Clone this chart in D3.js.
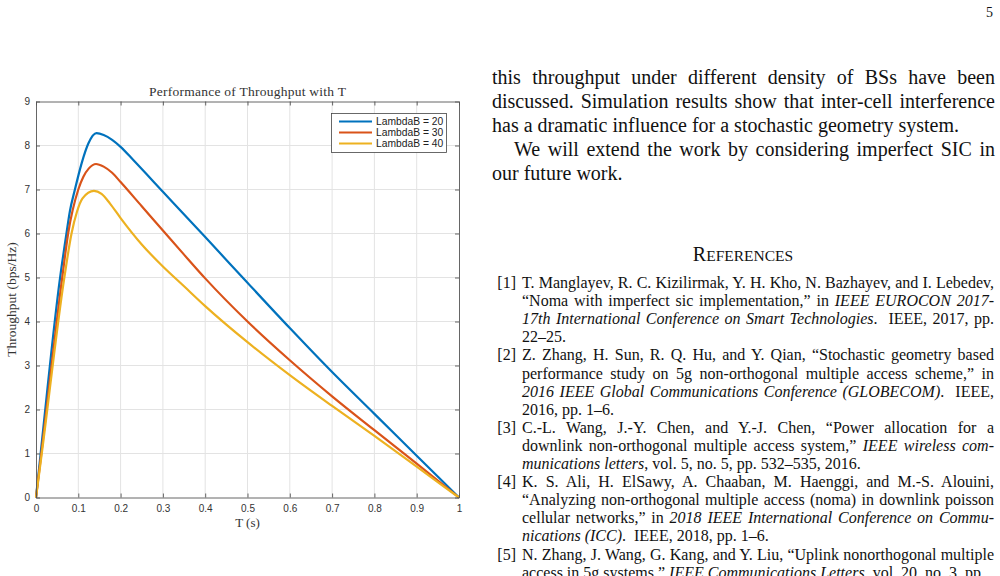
<!DOCTYPE html>
<html>
<head>
<meta charset="utf-8">
<script src="https://cdn.jsdelivr.net/npm/d3@7"></script>
<style>
    body { margin: 0; background: #fff; }
    svg { display: block; }
</style>
</head>
<body>
<div id="page"></div>
<script>

// ---- chart data ----
const xTickValues = [0, 0.1, 0.2, 0.3, 0.4, 0.5, 0.6, 0.7, 0.8, 0.9, 1];
const yTickValues = [0, 1, 2, 3, 4, 5, 6, 7, 8, 9];
const seriesLabels = ["LambdaB = 20", "LambdaB = 30", "LambdaB = 40"];

// [T, throughput]
const lambdaB20 = [[0, 0], [0.011, 1], [0.057, 5], [0.072, 6], [0.08, 6.5], [0.092, 7], [0.108, 7.6], [0.124, 8.05],
    [0.143, 8.28], [0.16, 8.24], [0.18, 8.13], [0.2, 7.97], [0.23, 7.67], [0.3, 6.95], [0.4, 5.92],
    [0.5, 4.88], [0.6, 3.85], [0.7, 2.85], [0.8, 1.9], [0.9, 0.95], [1, 0]];
const lambdaB30 = [[0, 0], [0.012, 0.95], [0.062, 5], [0.076, 6], [0.1, 7], [0.112, 7.29], [0.125, 7.48], [0.142, 7.58],
    [0.16, 7.52], [0.18, 7.38], [0.2, 7.17], [0.25, 6.62], [0.3, 6.07], [0.35, 5.52], [0.4, 4.98], [0.5, 4.0],
    [0.6, 3.12], [0.7, 2.3], [0.8, 1.53], [0.9, 0.77], [1, 0]];
const lambdaB40 = [[0, 0], [0.013, 0.95], [0.067, 5], [0.084, 6], [0.097, 6.5], [0.11, 6.8], [0.137, 6.97],
    [0.155, 6.9], [0.175, 6.68], [0.2, 6.35], [0.25, 5.75], [0.3, 5.25], [0.35, 4.8], [0.4, 4.35], [0.5, 3.53],
    [0.6, 2.78], [0.7, 2.08], [0.8, 1.4], [0.9, 0.7], [1, 0]];
const seriesData = [lambdaB20, lambdaB30, lambdaB40];

// ---- text column (underscores mark italic runs) ----
const bodyLines = [
    {text: "this throughput under different density of BSs have been", justify: true},
    {text: "discussed. Simulation results show that inter-cell interference", justify: true},
    {text: "has a dramatic influence for a stochastic geometry system.", justify: false},
    {text: "We will extend the work by considering imperfect SIC in", justify: true, indent: true},
    {text: "our future work.", justify: false}
];
const referenceLabels = ["[1]", "[2]", "[3]", "[4]", "[5]"];
const referenceLines = [
    ["T. Manglayev, R. C. Kizilirmak, Y. H. Kho, N. Bazhayev, and I. Lebedev,",
     "“Noma with imperfect sic implementation,” in _IEEE EUROCON 2017-_",
     "_17th International Conference on Smart Technologies_.  IEEE, 2017, pp.",
     "22–25."],
    ["Z. Zhang, H. Sun, R. Q. Hu, and Y. Qian, “Stochastic geometry based",
     "performance study on 5g non-orthogonal multiple access scheme,” in",
     "_2016 IEEE Global Communications Conference (GLOBECOM)_.  IEEE,",
     "2016, pp. 1–6."],
    ["C.-L. Wang, J.-Y. Chen, and Y.-J. Chen, “Power allocation for a",
     "downlink non-orthogonal multiple access system,” _IEEE wireless com-_",
     "_munications letters_, vol. 5, no. 5, pp. 532–535, 2016."],
    ["K. S. Ali, H. ElSawy, A. Chaaban, M. Haenggi, and M.-S. Alouini,",
     "“Analyzing non-orthogonal multiple access (noma) in downlink poisson",
     "cellular networks,” in _2018 IEEE International Conference on Commu-_",
     "_nications (ICC)_.  IEEE, 2018, pp. 1–6."],
    ["N. Zhang, J. Wang, G. Kang, and Y. Liu, “Uplink nonorthogonal multiple",
     "access in 5g systems,” _IEEE Communications Letters_, vol. 20, no. 3, pp."]
];

const seriesColors = ["#0072bd", "#d95319", "#edb120"];

// ---- page ----
const svg = d3.select("#page").append("svg")
    .attr("width", 1000)
    .attr("height", 576);

svg.append("rect").attr("width", 1000).attr("height", 576).attr("fill", "#fff");

// ---- plot ----
const plot = {left: 36, right: 459, top: 101.5, bottom: 497.5};

const x = d3.scaleLinear().domain([0, 1]).range([plot.left, plot.right]);
const y = d3.scaleLinear().domain([0, 9]).range([plot.bottom, plot.top]);

// grid
const grid = svg.append("g").attr("class", "grid")
    .attr("stroke", "#e3e3e3")
    .attr("stroke-width", 1);

grid.selectAll(".gx").data(xTickValues.slice(1, -1)).enter().append("line")
    .attr("x1", d => x(d)).attr("x2", d => x(d))
    .attr("y1", plot.top).attr("y2", plot.bottom);

grid.selectAll(".gy").data(yTickValues.slice(1, -1)).enter().append("line")
    .attr("x1", plot.left).attr("x2", plot.right)
    .attr("y1", d => y(d)).attr("y2", d => y(d));

// series
const line = d3.line()
    .x(d => x(d[0]))
    .y(d => y(d[1]))
    .curve(d3.curveMonotoneX);

svg.append("g").selectAll("path").data(seriesData).enter().append("path")
    .attr("d", line)
    .attr("fill", "none")
    .attr("stroke", (d, i) => seriesColors[i])
    .attr("stroke-width", 2.2)
    .attr("stroke-linejoin", "round");

// axes (MATLAB box with inward ticks)
function styleAxis(g) {
    g.select(".domain").attr("stroke", "#555").attr("stroke-width", 0.9);
    g.selectAll(".tick line").attr("stroke", "#555").attr("stroke-width", 0.9);
    g.selectAll(".tick text")
        .attr("fill", "#333")
        .style("font-family", "'Liberation Sans', Arial, sans-serif")
        .style("font-size", "10px");
}

svg.append("g")
    .attr("transform", `translate(0,${plot.bottom})`)
    .call(d3.axisBottom(x).tickValues(xTickValues).tickSizeInner(-4).tickSizeOuter(0).tickPadding(7)
        .tickFormat(d => String(d)))
    .call(styleAxis);

svg.append("g")
    .attr("transform", `translate(0,${plot.top})`)
    .call(d3.axisTop(x).tickValues(xTickValues).tickSizeInner(-4).tickSizeOuter(0).tickFormat(""))
    .call(styleAxis);

svg.append("g")
    .attr("transform", `translate(${plot.left},0)`)
    .call(d3.axisLeft(y).tickValues(yTickValues).tickSizeInner(-4).tickSizeOuter(0).tickPadding(6))
    .call(styleAxis);

svg.append("g")
    .attr("transform", `translate(${plot.right},0)`)
    .call(d3.axisRight(y).tickValues(yTickValues).tickSizeInner(-4).tickSizeOuter(0).tickFormat(""))
    .call(styleAxis);

// titles
const serif = "'Liberation Serif', 'Times New Roman', serif";

svg.append("text")
    .attr("x", (plot.left + plot.right) / 2)
    .attr("y", 96)
    .attr("text-anchor", "middle")
    .attr("fill", "#333")
    .style("font-family", serif)
    .style("font-size", "13.5px")
    .attr("textLength", 197)
    .text("Performance of Throughput with T");

svg.append("text")
    .attr("transform", `translate(16,${(plot.top + plot.bottom) / 2}) rotate(-90)`)
    .attr("text-anchor", "middle")
    .attr("fill", "#333")
    .style("font-family", serif)
    .style("font-size", "13.5px")
    .text("Throughput (bps/Hz)");

svg.append("text")
    .attr("x", (plot.left + plot.right) / 2)
    .attr("y", 527)
    .attr("text-anchor", "middle")
    .attr("fill", "#333")
    .style("font-family", serif)
    .style("font-size", "13px")
    .text("T (s)");

// legend
const legend = svg.append("g").attr("transform", "translate(331.5,113.5)");

legend.append("rect")
    .attr("width", 115).attr("height", 39)
    .attr("fill", "#fff")
    .attr("stroke", "#444")
    .attr("stroke-width", 0.8);

const legendRows = legend.selectAll(".row").data(seriesLabels).enter().append("g")
    .attr("transform", (d, i) => `translate(0,${8 + i * 11})`);

legendRows.append("line")
    .attr("x1", 7.5).attr("x2", 40.5)
    .attr("stroke", (d, i) => seriesColors[i])
    .attr("stroke-width", 2.2);

legendRows.append("text")
    .attr("x", 44.5)
    .attr("dy", "0.35em")
    .attr("fill", "#222")
    .style("font-family", "'Liberation Sans', Arial, sans-serif")
    .style("font-size", "10.3px")
    .text(d => d);

// ---- right column text ----
const col = {left: 492, right: 995};

function drawTextLine(x0, x1, yb, str, justify, size) {
    let t = svg.append("text")
        .attr("x", x0)
        .attr("y", yb)
        .attr("fill", "#111")
        .style("font-family", serif)
        .style("font-size", size + "px")
        .style("white-space", "pre");
    str.split("_").forEach((s, i) => {
        if (s.length) t.append("tspan").text(s).style("font-style", i % 2 ? "italic" : null);
    });
    if (justify) {
        let w = t.node().getComputedTextLength();
        let n = (str.match(/ /g) || []).length;
        if (n > 0) t.style("word-spacing", ((x1 - x0 - w) / n) + "px");
    }
    return t;
}

bodyLines.forEach((l, i) => {
    drawTextLine(col.left + (l.indent ? 22 : 0), col.right, 83.5 + i * 24.2, l.text, l.justify, 20);
});

// heading in small caps
let heading = svg.append("text")
    .attr("x", 743)
    .attr("y", 261)
    .attr("text-anchor", "middle")
    .attr("fill", "#111")
    .style("font-family", serif);
heading.append("tspan").style("font-size", "20px").text("R");
heading.append("tspan").style("font-size", "15.5px").text("EFERENCES");

// references
const refTop = 288, refPitch = 18.1;
let row = 0;
referenceLines.forEach((ref, r) => {
    svg.append("text")
        .attr("x", 516)
        .attr("y", refTop + row * refPitch)
        .attr("text-anchor", "end")
        .attr("fill", "#111")
        .style("font-family", serif)
        .style("font-size", "16px")
        .text(referenceLabels[r]);
    ref.forEach((l, j) => {
        drawTextLine(522, 994, refTop + row * refPitch, l, j < ref.length - 1, 16);
        row++;
    });
});

// page number
svg.append("text")
    .attr("x", 986)
    .attr("y", 17)
    .attr("fill", "#111")
    .style("font-family", serif)
    .style("font-size", "14px")
    .text("5");

</script>
</body>
</html>
